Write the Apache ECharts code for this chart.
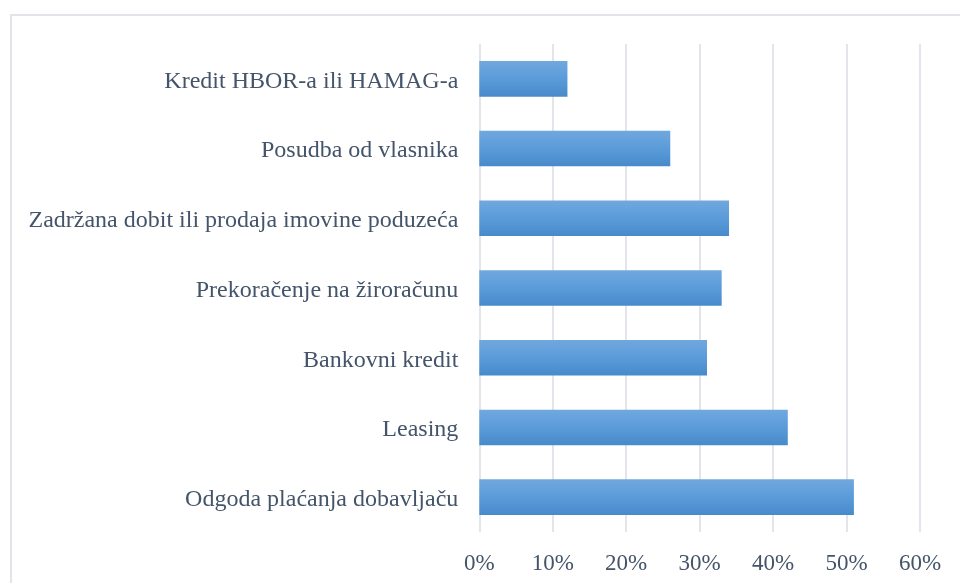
<!DOCTYPE html>
<html><head><meta charset="utf-8">
<script src="https://cdn.jsdelivr.net/npm/echarts@6/dist/echarts.min.js"></script>
<style>html,body{margin:0;padding:0;background:#fff}#c{width:960px;height:583px}</style>
</head><body><div id="c"></div>
<script>
var categories = ["Odgoda plaćanja dobavljaču","Leasing","Bankovni kredit","Prekoračenje na žiroračunu","Zadržana dobit ili prodaja imovine poduzeća","Posudba od vlasnika","Kredit HBOR-a ili HAMAG-a"];
var values = [51,42,31,33,34,26,12];
var tickValues = [0,10,20,30,40,50,60];

var chart = echarts.init(document.getElementById('c'));
var font = '"Liberation Serif","Times New Roman",serif';
var txt = '#44546a';
chart.setOption({
  animation:false,
  graphic:[{type:'rect',shape:{x:11,y:15,width:1200,height:1000},style:{fill:'none',stroke:'#e1e4e8',lineWidth:2},silent:true}],
  grid:{left:479.3,right:40,top:44,bottom:51,containLabel:false},
  xAxis:{type:'value',min:0,max:60,interval:10,
    axisLine:{show:false},axisTick:{show:false},
    splitLine:{show:true,lineStyle:{color:'#e2e5ea',width:2}},
    axisLabel:{formatter:'{value}%',color:txt,fontFamily:font,fontSize:23,margin:20}},
  yAxis:{type:'category',data:categories,
    axisLine:{show:false},axisTick:{show:false},
    axisLabel:{color:txt,fontFamily:font,fontSize:24,margin:21,
      formatter:function(v){return '{a|'+v+'}';},
      rich:{a:{color:txt,fontFamily:font,fontSize:24,padding:[5,0,0,0]}}}},
  series:[{type:'bar',data:values,barWidth:'51%',
    itemStyle:{color:new echarts.graphic.LinearGradient(0,0,0,1,[{offset:0,color:'#70a8de'},{offset:0.5,color:'#5b9bda'},{offset:1,color:'#478aca'}])}}]
});
</script></body></html>
